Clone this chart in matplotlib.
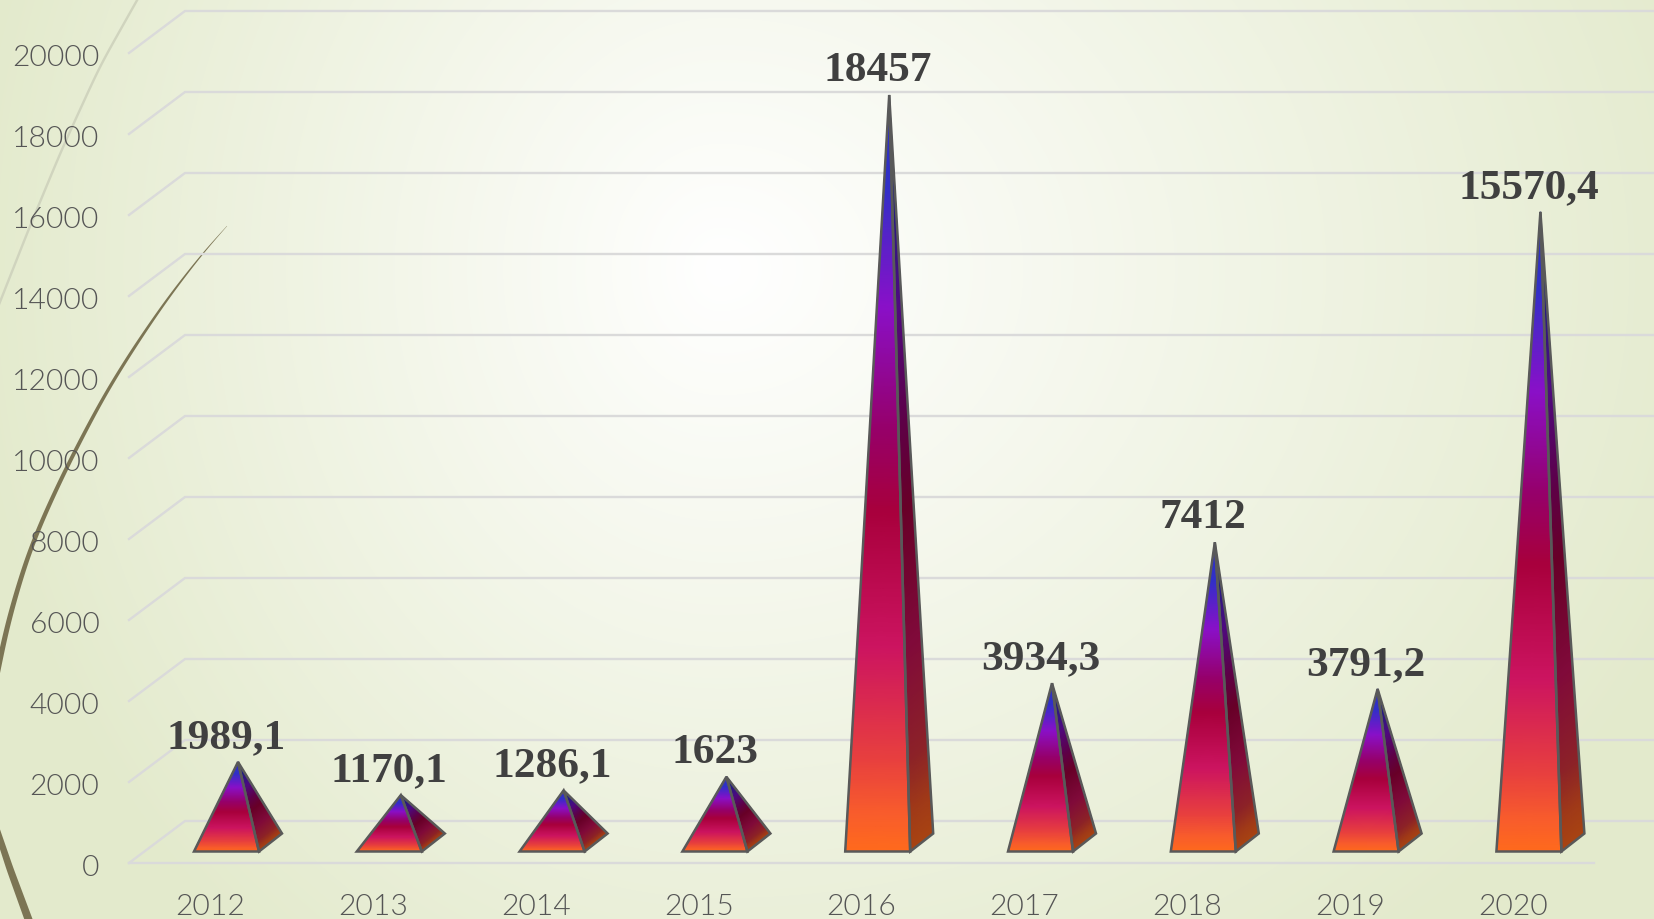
import numpy as np
import matplotlib
matplotlib.use("Agg")
import matplotlib.pyplot as plt
from matplotlib.colors import LinearSegmentedColormap
from matplotlib.patches import Polygon
from matplotlib.transforms import ScaledTranslation

years = ["2012", "2013", "2014", "2015", "2016", "2017", "2018", "2019", "2020"]
values = [1989.1, 1170.1, 1286.1, 1623, 18457, 3934.3, 7412, 3791.2, 15570.4]
labels = ["1989,1", "1170,1", "1286,1", "1623", "18457", "3934,3", "7412", "3791,2", "15570,4"]
yticks = list(range(0, 20001, 2000))

W, H = 1654, 920
PX_L, PX_R, PX_B, PX_T = 129.0, 1594.2, 864, 54
fig = plt.figure(figsize=(W / 100, H / 100), dpi=100)

# page background
bg = fig.add_axes([0, 0, 1, 1], zorder=0)
bg.set_axis_off()
yy, xx = np.mgrid[0:H, 0:W]
rx = np.where(xx < 720, 760.0, 1060.0)
t = np.clip(np.sqrt(((xx - 720) / rx) ** 2 + ((yy - 270) / 880.0) ** 2), 0, 1)
edge = np.array([0xE3, 0xEA, 0xCC]) / 255
img = 1 - t[..., None] * (1 - edge)
bg.imshow(img, aspect="auto", extent=(0, W, H, 0), interpolation="bilinear")
bg.set_xlim(0, W)
bg.set_ylim(H, 0)

# decorative arcs
def ribbon(pts, widths, color):
    pts = np.array(pts, float)
    widths = np.array(widths, float)
    s = np.linspace(0, 1, 120)
    k = np.linspace(0, 1, len(pts))
    x = np.interp(s, k, pts[:, 0])
    y = np.interp(s, k, pts[:, 1])
    w = np.interp(s, k, widths)
    for _ in range(60):
        x[1:-1] = (x[:-2] + x[1:-1] * 2 + x[2:]) / 4
        y[1:-1] = (y[:-2] + y[1:-1] * 2 + y[2:]) / 4
    dx, dy = np.gradient(x), np.gradient(y)
    n = np.hypot(dx, dy)
    nx, ny = -dy / n, dx / n
    poly = np.r_[np.c_[x + nx * w / 2, y + ny * w / 2], np.c_[x - nx * w / 2, y - ny * w / 2][::-1]]
    bg.add_patch(Polygon(poly, closed=True, fc=color, ec="none"))

ribbon([(140, -4), (100, 67), (62, 150), (30, 227), (-2, 308)], [2.4] * 5, "#D0D4BE")
ribbon([(227, 227), (202, 255), (167, 300), (133, 350), (102, 400), (63, 475), (30, 548), (8, 622), (-4, 680)],
       [0.3, 1.2, 2.2, 3, 3.4, 4, 4.4, 5, 5.5], "#7C7554")
ribbon([(-4, 828), (10, 870), (32, 930)], [6, 7, 8], "#7C7554")

ax = fig.add_axes([PX_L / W, (H - PX_B) / H, (PX_R - PX_L) / W, (PX_B - PX_T) / H], zorder=1)
ax.patch.set_alpha(0)
ax.set_xlim(-0.5, 8.5)
ax.set_ylim(0, 20000)
for s in ax.spines.values():
    s.set_visible(False)

ux = (PX_R - PX_L) / 9.0
uy = (PX_B - PX_T) / 20000.0
wall_dx, wall_dy = 56 / ux, 42 / uy
xright = (W + 5 - PX_L) / ux - 0.5
grid_c = "#DADADA"
for v in yticks:
    ax.plot([-0.5, -0.5 + wall_dx, xright], [v, v + wall_dy, v + wall_dy], color=grid_c, lw=1.7,
            clip_on=False, zorder=1, solid_joinstyle="miter")
ax.plot([-0.5, 8.5], [0, 0], color=grid_c, lw=1.7, zorder=1, clip_on=False)

# bar shape
c_off = 16.1 / ux
half = 32.5 / ux
dep_x, dep_y = 23 / ux, 18 / uy
base_y = 11.5 / uy

stops = [0, 0.05, 0.12, 0.27, 0.45, 0.56, 0.72, 0.88, 1.0]
front_cols = ["#FF6A1C", "#F85C2C", "#E8403E", "#CC1460", "#A8003C", "#96006A", "#8A10C8", "#3030C8", "#3030C0"]
side_cols = ["#A84412", "#A03A18", "#8C2228", "#800A3A", "#680028", "#5E0046", "#4E0A80", "#1F1F80", "#1F1F80"]
cm_front = LinearSegmentedColormap.from_list("front", list(zip(stops, front_cols)), N=512)
cm_side = LinearSegmentedColormap.from_list("side", list(zip(stops, side_cols)), N=512)
edge_c = "#595959"

def face(p0, p1, apex, cmap):
    s = np.linspace(0, 1, 160)
    X = np.c_[p0[0] + (apex[0] - p0[0]) * s, p1[0] + (apex[0] - p1[0]) * s]
    Y = np.c_[p0[1] + (apex[1] - p0[1]) * s, p1[1] + (apex[1] - p1[1]) * s]
    C = np.c_[s, s]
    ax.pcolormesh(X, Y, C, cmap=cmap, vmin=0, vmax=1, shading="gouraud", zorder=3, clip_on=False)
    ax.add_patch(Polygon([p0, p1, apex], closed=True, fc="none", ec=edge_c, lw=1.8,
                         joinstyle="miter", zorder=4, clip_on=False))

for i, (v, lab) in enumerate(zip(values, labels)):
    cx = i + c_off
    fl = (cx - half, base_y)
    fr = (cx + half, base_y)
    br = (cx + half + dep_x, base_y + dep_y)
    apex = (cx + dep_x / 2, base_y + dep_y / 2 + v)
    face(fl, fr, apex, cm_front)
    face(fr, br, apex, cm_side)
    ax.annotate(lab, xy=(cx, apex[1]), xytext=(0, 25 * 0.72), textcoords="offset points",
                ha="center", va="center", family="Liberation Serif", weight="bold",
                fontsize=31.2, color="#404040", zorder=5, annotation_clip=False)

ax.set_xticks(range(len(years)))
ax.set_xticklabels(years)
ax.set_yticks(yticks)
ax.set_yticklabels([str(v) for v in yticks])
ax.tick_params(axis="both", length=0, labelcolor="#555555", labelsize=21.6)
ax.tick_params(axis="y", pad=21.3)
ax.tick_params(axis="x", pad=21.5)
shift = ScaledTranslation(0, -1.5 / 100, fig.dpi_scale_trans)
for l in ax.get_xticklabels() + ax.get_yticklabels():
    l.set_family("Lato")
    l.set_fontweight(300)
for l in ax.get_yticklabels():
    l.set_verticalalignment("center_baseline")
    l.set_transform(l.get_transform() + shift)

fig.savefig("out.png", dpi=100)
